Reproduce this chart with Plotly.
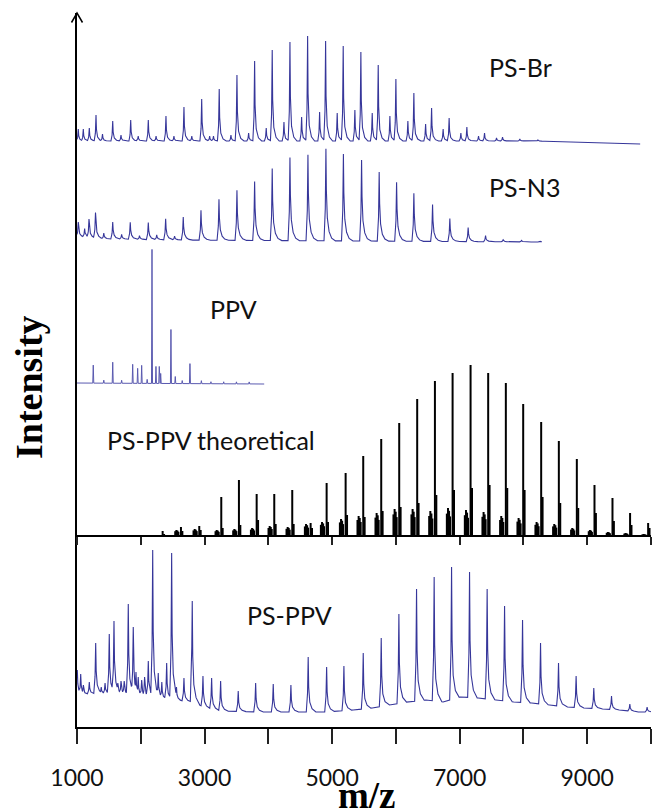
import numpy as np
import plotly.graph_objects as go

# ---------------- data (m/z, intensity in arbitrary units) ----------------
# PS-Br : main peaks and minor peaks (heights above the trace baseline)
psbr_mz = [1298, 1560, 1842, 2118, 2395, 2677, 2955, 3230, 3508, 3785, 4061, 4339, 4616,
           4898, 5174, 5451, 5723, 6000, 6282, 6560, 6835, 7113, 7390, 7672, 7943, 8226]
psbr_int = [26, 20, 21, 21, 25, 34, 42, 52, 66, 80, 91, 99, 105,
            100, 95, 89, 76, 62, 48, 33, 23, 14, 8, 4, 2, 1]
psbr_minor_mz = [1020, 1099, 1193, 1400, 1690, 1960, 2240, 2520, 2800, 3080, 3140, 3414, 3691,
                 3967, 4245, 4522, 4804, 5080, 5357, 5629, 5906, 6188, 6466, 6741, 7019, 7296, 7578]
psbr_minor_int = [12, 12, 13, 7, 6, 5, 5, 5, 5, 5, 5, 6, 8,
                  13, 19, 24, 29, 28, 31, 28, 25, 20, 17, 12, 8, 5, 3]
psbr_base_mz = [1000, 8200, 9830]
psbr_base_int = [0, 0, -3]

# PS-N3
psn3_mz = [1020, 1188, 1290, 1560, 1835, 2118, 2390, 2666, 2944, 3226, 3508, 3785, 4061, 4339,
           4621, 4903, 5177, 5462, 5738, 6011, 6282, 6575, 6846, 7133, 7406, 7682, 7970, 8257]
psn3_int = [15, 19, 26, 17, 17, 17, 21, 23, 30, 41, 50, 59, 72, 83,
            86, 92, 87, 81, 69, 59, 48, 37, 23, 14, 6, 2, 1.5, 1]
psn3_minor_mz = [1120, 1420, 1700, 1980, 2250, 2530]
psn3_minor_int = [9, 6, 5, 4, 5, 4]
psn3_base_mz = [1000, 1400, 2500, 8300]
psn3_base_int = [3, 1, 0, -2]

# PPV
ppv_mz = [1255, 1420, 1560, 1700, 1873, 1951, 2014, 2100, 2176, 2238, 2290, 2312, 2473,
          2541, 2650, 2771, 2950, 3100, 3300, 3500, 3700]
ppv_int = [18, 3, 21, 3, 19, 15, 18, 4, 134, 17, 17, 10, 54,
           7, 3, 20, 3, 2, 2, 2, 2]
ppv_base_mz = [940, 3935]
ppv_base_int = [0, -1]

# PS-PPV theoretical (stick spectrum): main line, second isotope line, left cluster
theo_mz = [2343, 2630, 2917, 3262, 3539, 3817, 4093, 4375, 4663, 4914, 5212, 5488, 5770, 6052,
           6334, 6612, 6889, 7171, 7447, 7724, 7996, 8278, 8555, 8837, 9114, 9396, 9672, 9955]
theo_main = [5, 9, 10, 39, 56, 42, 42, 46, 13, 53, 63, 80, 97, 113,
             137, 155, 163, 171, 163, 153, 132, 114, 95, 77, 51, 38, 23, 13]
theo_second = [2, 5, 6, 8, 11, 16, 12, 12, 8, 14, 21, 19, 25, 29,
               33, 41, 46, 48, 51, 48, 46, 39, 33, 28, 23, 15, 11, 8]
theo_cluster = [0, 6, 7, 6, 7, 8, 10, 9, 12, 14, 17, 20, 23, 27,
                27, 25, 28, 26, 24, 20, 18, 14, 12, 8, 6, 4, 3, 2]

# PS-PPV measured (absolute intensities, with its own sloping baseline)
pspv_mz = [1005, 1058, 1100, 1193, 1293, 1380, 1440, 1506, 1580, 1640, 1690, 1740, 1804, 1882,
           1925, 1960, 2014, 2060, 2118, 2187, 2274, 2330, 2406, 2484, 2560, 2677, 2807, 2975,
           3111, 3252, 3528, 3801, 4077, 4354, 4625, 4914, 5185, 5488, 5770, 6047, 6324, 6600,
           6873, 7155, 7431, 7704, 7986, 8268, 8550, 8826, 9103, 9381, 9668, 9939]
pspv_int = [57, 53, 42, 45, 84, 40, 44, 93, 106, 44, 46, 46, 123, 100,
            55, 50, 47, 50, 66, 177, 54, 45, 64, 174, 40, 49, 126, 51,
            49, 46, 36, 44, 43, 42, 70, 60, 61, 74, 89, 113, 138, 150,
            160, 155, 138, 121, 107, 84, 64, 51, 39, 31, 23, 20]
pspv_base_mz = [1000, 1250, 1700, 2050, 2450, 2800, 3030, 3250, 3870, 4900, 5330, 5630, 5900,
                6180, 6470, 6740, 7010, 7290, 7570, 7850, 8130, 8410, 8690, 8960, 9240, 9520,
                9800, 10000]
pspv_base_int = [32, 33, 33, 30, 27, 25, 19, 16, 15, 15, 17, 19, 22,
                 25, 27, 25, 30, 29, 27, 25, 24, 22, 20, 19, 18, 17, 15, 15]

tick_vals = [1000, 2000, 3000, 4000, 5000, 6000, 7000, 8000, 9000, 10000]
tick_text = ["1000", "", "3000", "", "5000", "", "7000", "", "9000", ""]

# ---------------- layout constants (vertical stacking offsets) ----------------
Y_TOP = 714
OFF_BR, OFF_N3, OFF_PPV, OFF_THEO, OFF_PSPPV = 586, 487, 344, 191, 0

# peak profile templates (m/z offset, fraction of peak height)
SHAPE_SHARP = ([-28, -10, 0, 7, 25, 60, 110], [0, 0.3, 1, 0.45, 0.15, 0.04, 0])
SHAPE_BROAD = ([-30, -10, 0, 7, 22, 50, 90, 150], [0, 0.35, 1, 0.55, 0.25, 0.1, 0.03, 0])
SHAPE_MEAS = ([-30, -10, 0, 8, 25, 60, 120], [0, 0.35, 1, 0.45, 0.18, 0.06, 0])
SHAPE_STICK = ([-8, 0, 8], [0, 1, 0])

BLUE = "#36369a"


def build(peak_mz, peak_int, base_mz, base_int, shape, x0, x1, absolute=False):
    dx, fr = shape
    pts = {float(x0), float(x1)}
    pts.update(float(b) for b in base_mz if x0 < b < x1)
    for m in peak_mz:
        for d in dx:
            if x0 < m + d < x1:
                pts.add(float(m + d))
    xs = np.array(sorted(pts))
    base = np.interp(xs, base_mz, base_int)
    env = np.zeros_like(xs)
    for m, v in zip(peak_mz, peak_int):
        h = v - np.interp(m, base_mz, base_int) if absolute else v
        env = np.maximum(env, h * np.interp(xs - m, dx, fr, left=0.0, right=0.0))
    return xs, base + env


fig = go.Figure()

# PS-Br
x, y = build(psbr_mz + psbr_minor_mz, psbr_int + psbr_minor_int,
             psbr_base_mz, psbr_base_int, SHAPE_SHARP, 1000, 9830)
fig.add_trace(go.Scatter(x=x, y=y + OFF_BR, mode="lines",
                         line=dict(color=BLUE, width=1.1), hoverinfo="skip"))

# PS-N3
x, y = build(psn3_mz + psn3_minor_mz, psn3_int + psn3_minor_int,
             psn3_base_mz, psn3_base_int, SHAPE_BROAD, 1000, 8290)
fig.add_trace(go.Scatter(x=x, y=y + OFF_N3, mode="lines",
                         line=dict(color=BLUE, width=1.1), hoverinfo="skip"))

# PPV
x, y = build(ppv_mz, ppv_int, ppv_base_mz, ppv_base_int, SHAPE_STICK, 940, 3935)
fig.add_trace(go.Scatter(x=x, y=y + OFF_PPV, mode="lines",
                         line=dict(color="#5a5ab0", width=1.0), hoverinfo="skip"))

# Theoretical sticks
tx, ty = [], []
for m, a, s, c in zip(theo_mz, theo_main, theo_second, theo_cluster):
    for d, h in [(-90, 0.8 * c), (-72, c), (-55, 0.9 * c), (-40, 0.7 * c), (0, a), (22, s)]:
        if h > 0:
            tx += [m + d, m + d, None]
            ty += [OFF_THEO, OFF_THEO + h, None]
fig.add_trace(go.Scatter(x=tx, y=ty, mode="lines", xaxis="x2", yaxis="y",
                         line=dict(color="black", width=2.0), hoverinfo="skip"))

# PS-PPV measured
x, y = build(pspv_mz, pspv_int, pspv_base_mz, pspv_base_int, SHAPE_MEAS, 1000, 10000,
             absolute=True)
fig.add_trace(go.Scatter(x=x, y=y + OFF_PSPPV, mode="lines",
                         line=dict(color=BLUE, width=1.1), hoverinfo="skip"))

LABEL_FONT = dict(family="Lato, Carlito, Calibri, sans-serif", size=25, color="#111111")
labels = [("PS-Br", 7426, 660), ("PS-N3", 7426, 540), ("PPV", 3053, 418),
          ("PS-PPV theoretical", 1439, 287), ("PS-PPV", 3633, 112)]
annotations = [dict(text=t, x=xx, y=yy, xref="x", yref="y", xanchor="left", yanchor="middle",
                    showarrow=False, font=LABEL_FONT) for t, xx, yy in labels]

annotations.append(dict(text="<b>Intensity</b>", textangle=-90, xref="paper", yref="paper",
                        x=(29 - 77) / 574, y=(727 - 387) / 714, xanchor="center",
                        yanchor="middle", showarrow=False,
                        font=dict(family="Liberation Serif, Times New Roman, serif", size=38,
                                  color="black")))
annotations.append(dict(text="<b>m/z</b>", xref="paper", yref="paper",
                        x=(367 - 77) / 574, y=0, xanchor="center", yanchor="top", yshift=-46,
                        showarrow=False,
                        font=dict(family="Liberation Serif, Times New Roman, serif", size=37,
                                  color="black")))

dx_arrow = 5.5 / 574
dy_arrow = 9.5 / 714
shapes = [dict(type="path", xref="paper", yref="paper",
               path=f"M {-dx_arrow},{1 - dy_arrow} L 0,1 L {dx_arrow},{1 - dy_arrow}",
               line=dict(color="black", width=1.5))]

fig.update_layout(
    width=653, height=808,
    margin=dict(l=77, r=2, t=13, b=81),
    paper_bgcolor="white", plot_bgcolor="white",
    showlegend=False,
    annotations=annotations,
    shapes=shapes,
    xaxis=dict(range=[1000, 10000], showgrid=False, zeroline=False, showline=True,
               linecolor="black", linewidth=1.5, ticks="outside", ticklen=15, tickwidth=1.5,
               tickcolor="#222222", tickvals=tick_vals, ticktext=tick_text,
               tickfont=dict(family="Lato, Carlito, Calibri, sans-serif", size=23,
                             color="#111111"),
               ticklabelstandoff=15),
    xaxis2=dict(range=[1000, 10000], overlaying="x", anchor="free",
                position=OFF_THEO / Y_TOP, side="bottom", showgrid=False, zeroline=False,
                showline=True, linecolor="black", linewidth=1.5, ticks="outside", ticklen=8,
                tickwidth=1.5, tickcolor="#222222", tickvals=tick_vals,
                showticklabels=False),
    yaxis=dict(range=[0, Y_TOP], showgrid=False, zeroline=False, showline=True,
               linecolor="black", linewidth=1.5, ticks="", showticklabels=False),
)

fig.write_html("out.html")
